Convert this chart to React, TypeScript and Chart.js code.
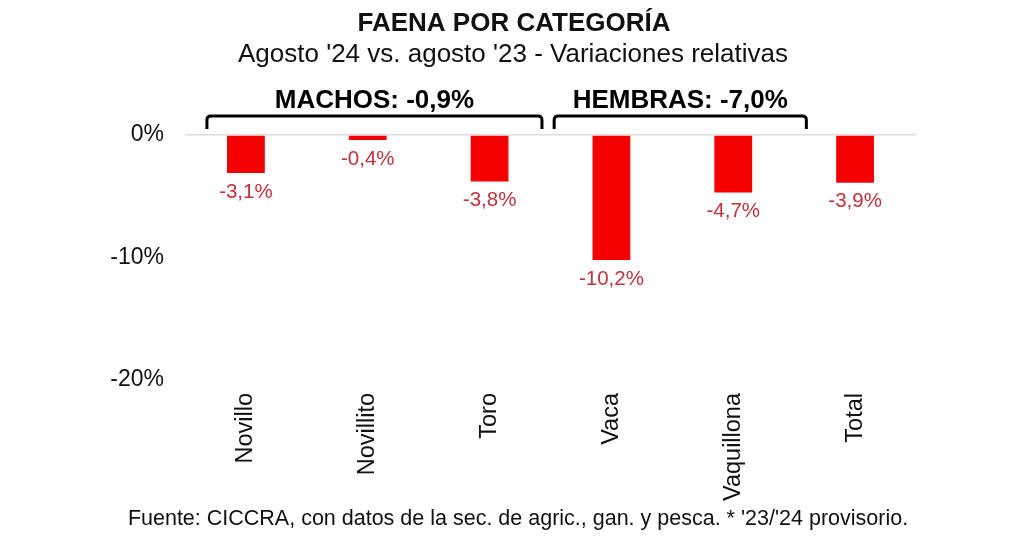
import React, { useEffect, useRef } from "react";
import { Chart, registerables } from "chart.js";

Chart.register(...registerables);

const categories = ["Novillo", "Novillito", "Toro", "Vaca", "Vaquillona", "Total"];
const values = [-3.1, -0.4, -3.8, -10.2, -4.7, -3.9];
const yTicks = [0, -10, -20];
const titleText = "FAENA POR CATEGORÍA";
const subtitleText = "Agosto '24 vs. agosto '23 - Variaciones relativas";
const groupLabels = ["MACHOS: -0,9%", "HEMBRAS: -7,0%"];
const groupRanges = [
  [-0.32, 2.43],
  [2.53, 4.6],
];
const footerText = "Fuente: CICCRA, con datos de la sec. de agric., gan. y pesca. * '23/'24 provisorio.";

const FONT = "Arial, 'Liberation Sans', sans-serif";
const fmt = (v: number) => v.toFixed(1).replace(".", ",") + "%";

const annotations = {
  id: "annotations",
  afterDraw(chart: any) {
    const { ctx, scales } = chart;
    const x = scales.x;
    ctx.save();
    ctx.fillStyle = "#111";
    ctx.textAlign = "center";
    ctx.textBaseline = "middle";
    ctx.font = `bold 26px ${FONT}`;
    ctx.fillText(titleText, 514, 24);
    ctx.font = `26px ${FONT}`;
    ctx.fillText(subtitleText, 513, 55);

    // group brackets
    const catW = x.getPixelForValue(1) - x.getPixelForValue(0);
    ctx.lineWidth = 3;
    ctx.strokeStyle = "#000";
    groupRanges.forEach(([a, b], i) => {
      const x0 = x.getPixelForValue(0) + a * catW;
      const x1 = x.getPixelForValue(0) + b * catW;
      const yTop = 116;
      const yBot = 129;
      const r = 4;
      ctx.beginPath();
      ctx.moveTo(x0, yBot);
      ctx.lineTo(x0, yTop + r);
      ctx.quadraticCurveTo(x0, yTop, x0 + r, yTop);
      ctx.lineTo(x1 - r, yTop);
      ctx.quadraticCurveTo(x1, yTop, x1, yTop + r);
      ctx.lineTo(x1, yBot);
      ctx.stroke();
      ctx.font = `bold 26px ${FONT}`;
      ctx.fillStyle = "#000";
      ctx.fillText(groupLabels[i], (x0 + x1) / 2, 101);
    });

    // footer
    ctx.font = `21.5px ${FONT}`;
    ctx.fillStyle = "#111";
    ctx.fillText(footerText, 518, 519);
    ctx.restore();
  },
  afterDatasetsDraw(chart: any) {
    const { ctx } = chart;
    const meta = chart.getDatasetMeta(0);
    ctx.save();
    ctx.font = `20.5px ${FONT}`;
    ctx.fillStyle = "#c0323c";
    ctx.textAlign = "center";
    ctx.textBaseline = "middle";
    meta.data.forEach((bar: any, i: number) => {
      ctx.fillText(fmt(values[i]), bar.x, bar.y + 19);
    });
    ctx.restore();
  },
};

export default function App() {
  const ref = useRef<HTMLCanvasElement | null>(null);
  useEffect(() => {
    if (!ref.current) return;
    const chart = new Chart(ref.current, {
      type: "bar",
      data: {
        labels: categories,
        datasets: [
          {
            data: values,
            backgroundColor: "#f50000",
            borderWidth: 0,
            categoryPercentage: 1,
            barPercentage: 0.31,
          },
        ],
      },
      options: {
        animation: false,
        responsive: false,
        maintainAspectRatio: false,
        layout: { padding: { top: 135, right: 108, left: 0, bottom: 0 } },
        plugins: {
          legend: { display: false },
          tooltip: { enabled: false },
          title: { display: false },
        },
        scales: {
          x: {
            position: "bottom",
            grid: { display: false, drawTicks: false },
            border: { display: false },
            ticks: {
              autoSkip: false,
              minRotation: 90,
              maxRotation: 90,
              padding: 13,
              color: "#111",
              font: { family: FONT, size: 23.5 },
            },
            afterFit(scale: any) {
              scale.height = 158;
              scale.paddingLeft = 0;
              scale.paddingRight = 0;
            },
          },
          y: {
            min: -20,
            max: 0,
            afterBuildTicks(scale: any) {
              scale.ticks = yTicks.map((v) => ({ value: v }));
            },
            grid: {
              drawTicks: false,
              color: (c: any) => (c.tick && c.tick.value === 0 ? "#dcdcdc" : "rgba(0,0,0,0)"),
              lineWidth: 1.5,
            },
            border: { display: false },
            ticks: {
              padding: 21,
              color: "#111",
              font: { family: FONT, size: 23 },
              callback: (v: any) => `${v}%`,
            },
            afterFit(scale: any) {
              scale.width = 185;
              scale.paddingTop = 0;
              scale.paddingBottom = 0;
            },
          },
        },
      },
      plugins: [annotations],
    });
    return () => chart.destroy();
  }, []);
  return (
    <div style={{ position: "fixed", left: 0, top: 0, width: 1024, height: 538, background: "#fff" }}>
      <canvas ref={ref} width={1024} height={538} style={{ display: "block" }} />
    </div>
  );
}
